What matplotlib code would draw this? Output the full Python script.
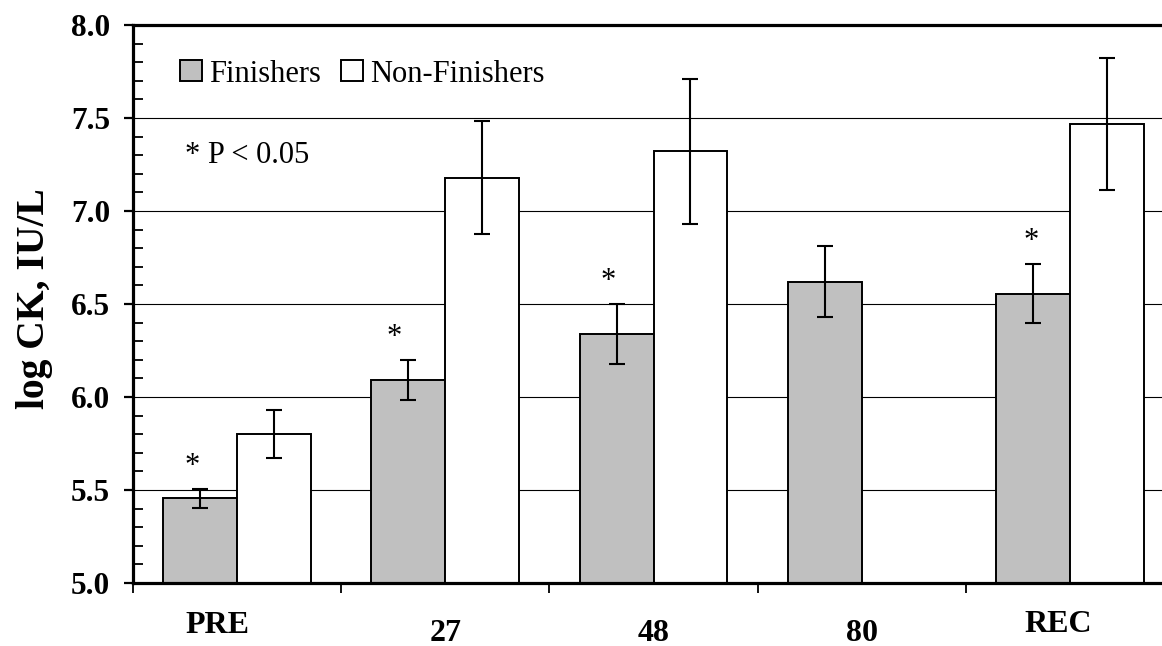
import numpy as np
import matplotlib
matplotlib.use("Agg")
import matplotlib.pyplot as plt
from matplotlib.ticker import MultipleLocator

# ---- data -------------------------------------------------------------
time_points = ["PRE", "27", "48", "80", "REC"]
series_names = ["Finishers", "Non-Finishers"]
finishers_mean = [5.455, 6.09, 6.34, 6.62, 6.555]
finishers_err = [0.053, 0.107, 0.162, 0.19, 0.158]
non_finishers_mean = [5.80, 7.18, 7.32, np.nan, 7.47]
non_finishers_err = [0.13, 0.305, 0.39, np.nan, 0.355]
significant = [True, True, True, False, True]
y_ticks = [5.0, 5.5, 6.0, 6.5, 7.0, 7.5, 8.0]
note_text = "* P < 0.05"
y_title = "log CK, IU/L"

# ---- style ------------------------------------------------------------
# per-category nudges of the axis labels (pixels: dx, dy below the axis)
label_nudges = [(-20, -50), (0, -58), (0, -58), (0, -58), (-12, -49)]
# horizontal nudges of the significance stars (pixels)
star_nudges = [-8, -14, -8, 0, -2]
GREY = "#c0c0c0"

plt.rcParams["font.family"] = ["Liberation Serif", "DejaVu Serif"]

W, H = 1162, 646
fig = plt.figure(figsize=(W / 100, H / 100), dpi=100)
ax = fig.add_axes([133 / W, (H - 583) / H, (1174 - 133) / W, (583 - 25) / H])

x = np.arange(len(time_points))
bw = 0.355
f_mean = np.array(finishers_mean, dtype=float)
f_err = np.array(finishers_err, dtype=float)
n_mean = np.array(non_finishers_mean, dtype=float)
n_err = np.array(non_finishers_err, dtype=float)
n_ok = ~np.isnan(n_mean)

base = 5.0
bars_f = ax.bar(x - bw / 2, f_mean - base, bottom=base, width=bw, color=GREY,
                edgecolor="black", linewidth=1.4, zorder=2, label=series_names[0])
bars_n = ax.bar(x[n_ok] + bw / 2, n_mean[n_ok] - base, bottom=base, width=bw,
                color="white", edgecolor="black", linewidth=1.4, zorder=2,
                label=series_names[1])

err_kw = dict(fmt="none", ecolor="black", elinewidth=1.5, capsize=5.8,
              capthick=1.5, zorder=3)
ax.errorbar(x - bw / 2, f_mean, yerr=f_err, **err_kw)
ax.errorbar(x[n_ok] + bw / 2, n_mean[n_ok], yerr=n_err[n_ok], **err_kw)

# significance stars above the finisher bars
for i, sig in enumerate(significant):
    if sig:
        ax.annotate("*", xy=(x[i] - bw / 2, f_mean[i] + f_err[i]),
                    xytext=(star_nudges[i], 15), textcoords="offset pixels",
                    ha="center", va="baseline", fontsize=22, zorder=4)

# axes limits, grid and ticks
ax.set_ylim(5.0, 8.0)
ax.set_xlim(-0.5, len(time_points) - 0.5)
ax.set_yticks(y_ticks)
ax.set_yticklabels([f"{v:.1f}" for v in y_ticks], fontsize=22.5,
                   fontweight="bold")
ax.yaxis.set_minor_locator(MultipleLocator(0.1))
ax.tick_params(axis="y", which="major", direction="out", length=6.5,
               width=1.6, pad=10)
ax.tick_params(axis="y", which="minor", direction="in", length=7, width=1.3)
ax.set_xticks(np.arange(-0.5, len(time_points), 1.0))
ax.set_xticklabels([])
ax.tick_params(axis="x", which="major", direction="out", length=7, width=1.3)

ax.yaxis.grid(True, color="black", linewidth=0.8)
ax.set_axisbelow(True)

for side in ("left", "bottom", "top"):
    ax.spines[side].set_linewidth(2.3)
ax.spines["right"].set_visible(False)

# category labels under the axis
for i, name in enumerate(time_points):
    dx, dy = label_nudges[i]
    ax.annotate(name, xy=(x[i], 0), xycoords=("data", "axes fraction"),
                xytext=(dx, dy), textcoords="offset pixels",
                ha="center", va="baseline", fontsize=23, fontweight="bold",
                annotation_clip=False)

ax.set_ylabel(y_title, fontsize=28.5, fontweight="bold")
ax.yaxis.set_label_coords(-0.095, 0.51)
ax.yaxis.label.set_va("center")

ax.legend(handles=[bars_f, bars_n], ncol=2, frameon=False, fontsize=22,
          handlelength=0.72, handleheight=0.69, handletextpad=0.23,
          columnspacing=0.65, borderpad=0, borderaxespad=0,
          loc="upper left", bbox_to_anchor=(0.0452, 0.938))

ax.text(0.05, 0.7527, note_text, transform=ax.transAxes, fontsize=22,
        va="baseline")

fig.savefig("out.png", dpi=100)
